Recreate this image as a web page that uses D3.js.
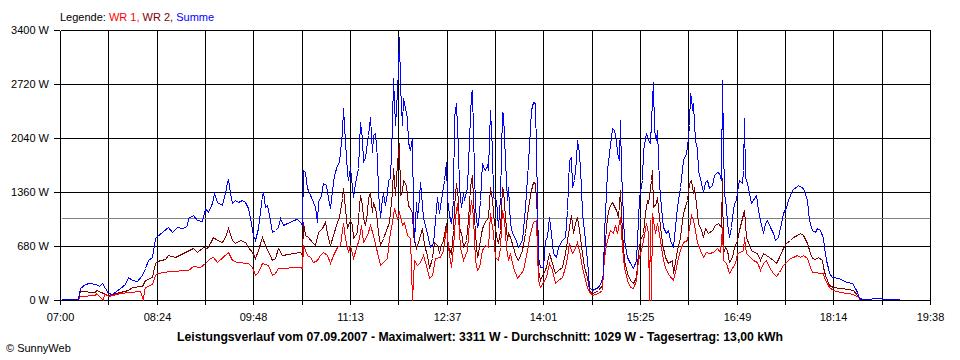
<!DOCTYPE html>
<html><head><meta charset="utf-8">
<script src="https://cdn.jsdelivr.net/npm/d3@7"></script>
<style>
body{margin:0;background:#fff;}
svg{display:block;font-family:"Liberation Sans",Arial,sans-serif;}
</style></head><body>
<svg id="chart" width="960" height="360"></svg>
<script>
// time axis: minutes after 07:00, span up to 19:38
const startLabel = "07:00";
const spanMinutes = 758;
const tickLabels = ["07:00","08:24","09:48","11:13","12:37","14:01","15:25","16:49","18:14","19:38"];
const yTicks = [0, 680, 1360, 2040, 2720, 3400];
const yMax = 3400;
const avgW = 1029;
const maxW = 3311;
const dateText = "07.09.2007";
const yieldText = "13,00 kWh";
const seriesNames = ["WR 1", "WR 2", "Summe"];

// [minutes after 07:00, watts]
const wr1 = [[15.0,0],[17.0,50],[30.1,63],[31.8,88],[37.1,0],[37.9,88],[41.4,50],[51.9,88],[60.6,101],[69.3,113],[71.9,0],[72.8,126],[73.7,164],[79.8,201],[82.4,315],[84.1,340],[95.5,365],[111.2,378],[115.5,428],[121.6,416],[126.0,466],[130.3,529],[132.9,541],[136.4,479],[146.0,604],[149.5,504],[153.9,479],[163.5,466],[167.0,416],[169.6,315],[172.2,353],[175.7,466],[180.9,441],[184.4,315],[187.0,340],[189.6,403],[208.8,416],[210.5,403],[211.4,693],[214.9,567],[217.5,541],[220.1,479],[223.6,504],[226.2,567],[228.9,604],[232.3,567],[235.0,466],[237.6,567],[241.1,667],[243.7,693],[246.3,970],[248.0,781],[250.6,604],[252.4,693],[255.0,529],[257.6,655],[260.2,781],[262.0,944],[263.7,730],[267.2,819],[269.8,944],[272.4,819],[275.9,604],[278.5,441],[281.2,479],[284.6,529],[286.4,781],[289.0,982],[290.7,1159],[293.4,1033],[295.1,1108],[297.7,944],[299.5,982],[302.1,819],[304.7,781],[306.4,0],[308.2,504],[310.8,441],[313.4,479],[316.0,567],[318.6,441],[321.3,277],[323.9,315],[326.5,529],[330.9,541],[333.5,630],[336.1,919],[337.8,667],[340.5,416],[342.2,667],[343.9,1045],[345.7,1222],[346.6,1045],[348.3,667],[350.9,504],[354.4,630],[356.1,1007],[357.9,1259],[359.6,1045],[361.4,504],[363.1,378],[364.8,416],[367.5,630],[370.1,693],[372.7,667],[374.4,1096],[377.1,844],[378.8,541],[381.4,504],[383.2,667],[384.9,1133],[386.6,1007],[388.4,667],[390.1,504],[391.9,592],[394.5,416],[398.0,277],[403.2,378],[406.7,630],[409.3,844],[411.9,982],[414.5,1007],[416.3,252],[418.0,164],[423.3,290],[425.9,466],[428.5,378],[431.1,214],[433.7,252],[437.2,290],[439.8,416],[441.6,541],[443.3,718],[445.9,592],[447.7,630],[450.3,730],[452.0,630],[454.6,416],[457.3,252],[459.9,126],[463.4,63],[468.6,88],[472.1,126],[473.0,378],[474.7,630],[476.4,756],[479.1,882],[481.7,844],[483.4,944],[485.1,844],[487.8,1045],[489.5,667],[491.3,416],[493.9,252],[496.5,164],[499.1,151],[501.7,252],[503.5,504],[506.1,630],[507.8,756],[510.4,970],[512.2,844],[513.1,0],[513.9,1007],[514.8,0],[515.7,1096],[518.3,844],[520.0,970],[522.7,756],[525.3,504],[527.9,378],[530.5,315],[534.0,252],[536.6,416],[539.2,592],[542.7,730],[546.2,756],[548.0,907],[549.7,1070],[551.4,1007],[553.2,882],[554.9,730],[557.5,630],[560.1,541],[562.7,604],[565.4,592],[568.8,604],[572.3,655],[574.9,604],[576.7,919],[577.6,504],[580.2,466],[582.8,340],[585.4,403],[588.0,466],[589.8,592],[592.4,604],[595.0,630],[595.9,793],[597.6,592],[601.1,541],[603.7,504],[607.2,479],[609.8,378],[612.4,466],[615.1,504],[617.7,416],[621.2,340],[623.8,302],[626.4,353],[629.9,441],[632.5,479],[636.0,529],[638.6,541],[642.1,567],[644.7,541],[647.3,567],[650.8,529],[653.4,416],[655.2,353],[664.8,340],[665.6,277],[668.2,214],[670.0,164],[673.5,126],[679.6,101],[685.7,88],[691.0,76],[695.3,38],[697.0,0]];

const wr2 = [[15.0,0],[17.0,113],[30.1,101],[31.8,126],[41.4,63],[51.9,101],[58.9,126],[62.3,164],[71.1,176],[73.7,252],[79.8,290],[82.4,466],[84.1,491],[91.1,516],[93.7,567],[99.8,541],[115.5,655],[119.0,604],[124.2,667],[127.7,655],[130.3,718],[132.9,793],[136.4,756],[140.8,730],[143.4,793],[146.0,907],[149.5,756],[152.1,718],[156.5,756],[160.8,730],[163.5,667],[167.0,604],[169.6,529],[172.2,630],[175.7,793],[178.3,693],[184.4,504],[187.0,529],[189.6,655],[193.1,567],[208.8,604],[210.5,567],[211.4,982],[213.2,819],[215.8,793],[219.3,730],[221.9,693],[224.5,856],[228.0,907],[230.6,982],[233.2,781],[235.0,693],[237.6,819],[241.1,982],[242.8,1045],[245.4,1284],[246.3,1410],[248.0,1159],[249.8,907],[250.6,944],[252.4,1007],[254.1,944],[255.0,781],[258.5,856],[259.4,1033],[261.1,1322],[262.8,1196],[263.7,1033],[265.5,944],[267.2,1108],[268.1,1284],[269.8,1360],[271.6,1108],[272.4,1234],[275.1,1108],[276.8,856],[278.5,693],[281.2,781],[286.4,982],[289.0,1360],[289.9,1662],[291.6,1322],[293.4,1725],[295.1,1977],[296.0,1322],[297.7,1360],[298.6,1511],[301.2,1448],[302.9,1196],[306.4,1108],[307.3,819],[309.9,655],[311.7,730],[315.2,907],[316.9,693],[319.5,567],[321.3,403],[323.9,529],[325.6,730],[328.3,693],[330.0,604],[331.7,693],[333.5,756],[336.1,970],[337.8,667],[340.5,592],[342.2,882],[343.1,1171],[344.8,1473],[346.6,1259],[347.4,919],[350.0,793],[350.9,667],[353.5,756],[355.3,1007],[357.0,1423],[358.8,1574],[359.6,1259],[361.4,844],[363.1,541],[364.0,592],[366.6,844],[368.4,944],[371.0,1007],[372.7,1045],[374.4,1423],[376.2,1259],[377.9,970],[380.5,756],[381.4,718],[383.2,882],[384.9,1423],[385.8,1385],[387.5,1045],[389.3,756],[390.1,844],[391.9,793],[394.5,667],[397.1,541],[398.9,504],[402.3,630],[405.0,844],[407.6,1171],[410.2,1385],[411.9,1486],[413.7,1473],[415.4,1045],[416.3,378],[418.0,252],[423.3,416],[425.9,592],[428.5,466],[431.1,340],[433.7,378],[437.2,416],[439.8,592],[441.6,756],[443.3,919],[445.1,1070],[446.8,844],[448.6,970],[450.3,1045],[452.0,882],[454.6,592],[456.4,416],[459.0,290],[460.8,126],[463.4,88],[466.0,101],[468.6,126],[472.1,189],[473.0,416],[474.7,756],[476.4,1045],[478.2,1171],[480.8,1234],[484.3,1133],[486.0,1045],[487.8,1385],[489.5,844],[491.3,504],[493.9,340],[496.5,252],[499.1,214],[501.7,290],[503.5,592],[505.2,756],[507.8,844],[509.6,1096],[511.3,1259],[512.2,1222],[514.8,1511],[515.7,1637],[516.5,1171],[519.1,1222],[520.0,1297],[521.8,1045],[524.4,718],[527.0,541],[529.6,466],[533.1,504],[534.0,340],[537.5,630],[540.1,793],[542.7,1096],[546.2,1259],[548.0,1473],[549.7,1511],[551.4,1347],[552.3,1423],[554.0,1222],[555.8,970],[558.4,882],[560.1,793],[561.9,907],[564.5,844],[568.0,882],[570.6,944],[573.2,970],[575.8,919],[576.7,1536],[577.6,592],[579.3,667],[581.0,630],[582.8,479],[585.4,541],[587.1,667],[589.8,756],[591.5,882],[595.9,1133],[597.6,793],[602.0,630],[604.6,604],[607.2,592],[609.8,504],[612.4,592],[617.7,541],[621.2,504],[623.8,466],[626.4,541],[629.9,655],[632.5,718],[636.0,756],[638.6,793],[642.1,819],[644.7,844],[647.3,819],[650.8,718],[653.4,592],[655.2,529],[657.8,516],[660.4,541],[663.9,504],[664.8,416],[666.5,315],[668.2,252],[670.0,189],[673.5,164],[686.6,139],[691.0,126],[694.4,63],[696.1,25],[698.7,0]];

const summe = [[0.4,0],[2.2,13],[15.3,13],[17.0,151],[21.4,201],[25.7,214],[31.8,201],[34.4,176],[36.2,214],[41.4,88],[44.9,76],[51.9,151],[56.2,201],[58.9,290],[62.3,252],[66.7,239],[71.1,315],[73.7,403],[76.3,504],[79.8,541],[82.4,781],[84.1,806],[88.5,856],[93.7,919],[97.2,856],[101.6,919],[105.9,907],[110.3,932],[111.2,1033],[115.5,1070],[119.0,1007],[123.4,995],[126.0,1159],[128.6,1108],[132.1,1222],[133.8,1347],[136.4,1234],[140.8,1196],[141.7,1259],[143.4,1347],[145.2,1486],[146.0,1524],[147.8,1347],[149.5,1222],[152.1,1259],[154.7,1234],[158.2,1259],[160.8,1234],[163.5,1159],[165.2,1033],[167.8,819],[169.6,756],[172.2,907],[175.7,1322],[176.5,1360],[178.3,1171],[180.0,1196],[182.6,1007],[184.4,856],[187.0,882],[189.6,919],[191.4,1033],[194.0,944],[197.5,970],[200.1,982],[202.7,1007],[206.2,1020],[208.8,982],[210.5,944],[211.4,1637],[213.2,1612],[214.9,1410],[215.8,1385],[220.1,1234],[221.9,1171],[223.6,982],[224.5,1234],[227.1,1322],[228.9,1473],[231.5,1448],[233.2,1284],[235.0,1159],[236.7,1385],[238.4,1574],[241.1,1700],[242.8,1738],[245.4,2116],[246.3,2418],[248.0,1990],[249.8,1612],[250.6,1511],[252.4,1675],[255.0,1297],[256.7,1473],[258.5,1599],[259.4,1662],[261.1,2242],[262.8,2040],[263.7,1738],[265.5,1801],[267.2,1990],[268.1,2078],[269.8,2304],[271.6,1864],[272.4,2078],[274.2,2103],[275.9,1788],[276.8,1360],[278.5,1045],[280.3,1284],[281.2,1347],[282.9,1196],[284.6,1347],[285.5,1511],[287.3,1536],[289.0,2204],[289.9,2796],[291.6,2204],[293.4,2619],[294.2,2922],[295.1,3311],[296.0,2708],[297.7,2204],[298.6,2544],[300.3,2418],[302.1,2292],[302.9,1990],[304.7,1889],[306.4,2040],[307.3,1108],[308.2,730],[309.9,1234],[310.8,1033],[312.5,1284],[313.4,1486],[315.2,1196],[316.0,1033],[317.8,944],[320.4,781],[322.1,667],[324.8,718],[326.5,1007],[328.3,1297],[330.0,1096],[332.6,1347],[334.3,1511],[336.1,1738],[337.0,1284],[338.7,1070],[340.5,970],[342.2,1259],[343.1,2304],[344.8,2481],[346.6,1889],[347.4,1423],[349.2,1171],[350.9,1347],[351.8,1259],[354.4,1423],[356.1,2015],[357.9,2607],[358.8,2645],[359.6,2103],[361.4,1171],[363.1,919],[364.0,970],[365.7,1259],[367.5,1725],[368.4,1675],[370.1,1637],[371.8,1700],[372.7,1637],[374.4,2393],[376.2,1889],[377.1,1297],[379.7,1259],[381.4,919],[383.2,1297],[384.9,2367],[385.8,2355],[387.5,1763],[389.3,1259],[390.1,1423],[391.9,970],[393.6,844],[396.2,781],[398.9,667],[402.3,756],[405.0,1171],[407.6,1725],[410.2,2393],[411.9,2493],[413.7,2481],[415.4,1259],[416.3,541],[418.0,416],[420.6,416],[422.4,756],[424.1,793],[425.9,1045],[427.6,844],[429.4,592],[432.0,541],[433.7,667],[437.2,756],[439.8,793],[441.6,1133],[443.3,1763],[445.1,1801],[445.9,1423],[447.7,1511],[449.4,1763],[450.3,2015],[452.0,1851],[453.8,1423],[454.6,1096],[457.3,756],[459.0,504],[460.8,164],[463.4,126],[468.6,164],[471.2,227],[473.0,340],[473.8,844],[475.6,1347],[476.4,1637],[478.2,1851],[479.9,2053],[480.8,2166],[482.5,2141],[484.3,2015],[485.1,1851],[486.9,1763],[487.8,2267],[488.6,1637],[489.5,1347],[491.3,756],[493.9,541],[496.5,466],[499.1,403],[501.7,504],[503.5,1007],[504.3,1297],[507.0,1511],[507.8,1889],[510.4,2103],[512.2,2015],[513.9,1977],[515.7,2519],[516.5,2745],[517.4,2141],[519.1,2015],[520.0,2141],[521.8,1473],[523.5,1171],[525.3,919],[527.9,844],[529.6,882],[531.4,756],[534.0,667],[537.5,1171],[540.1,1423],[542.7,1763],[545.3,1851],[546.2,1927],[548.0,2204],[548.8,2607],[549.7,2556],[550.6,2393],[551.4,2481],[552.3,2229],[553.2,2015],[554.9,1914],[555.8,1637],[558.4,1473],[560.1,1360],[561.9,1486],[563.6,1511],[565.4,1410],[568.0,1448],[569.7,1574],[572.3,1612],[574.1,1599],[575.8,1511],[576.7,2770],[577.6,1977],[578.4,1347],[580.2,1171],[581.0,970],[582.8,793],[584.5,919],[585.4,1045],[587.1,1222],[588.9,1259],[589.8,1360],[591.5,1511],[594.1,1473],[595.0,1637],[595.9,2292],[596.7,1549],[598.5,1473],[600.2,1347],[602.0,1222],[603.7,1259],[606.3,1322],[608.1,1133],[609.8,1007],[612.4,844],[614.2,970],[615.9,1007],[618.6,919],[621.2,844],[622.9,756],[625.5,793],[628.1,970],[629.9,1096],[632.5,1171],[634.3,1259],[637.7,1385],[643.0,1448],[645.6,1423],[647.3,1410],[650.8,1259],[652.6,1007],[655.2,882],[657.8,856],[659.5,907],[662.1,882],[664.8,781],[665.6,667],[667.4,504],[669.1,403],[670.0,340],[672.6,290],[677.8,277],[685.7,227],[690.0,214],[692.7,151],[694.4,101],[696.1,25],[699.6,13],[714.9,25],[716.6,13],[731.0,13]];

const colors = {wr1: "#ff0000", wr2: "#800000", summe: "#0000ff"};

const svg = d3.select("#chart");
const x = d3.scaleLinear().domain([0, spanMinutes]).rangeRound([60, 930]);
const y = d3.scaleLinear().domain([0, yMax]).rangeRound([300, 30]);

svg.append("rect").attr("width", 960).attr("height", 360).attr("fill", "#ffffff");

const plot = svg.append("g").attr("transform", "translate(0.5,0.5)");
plot.append("rect").attr("x", x(0)).attr("y", y(yMax))
  .attr("width", x(spanMinutes) - x(0)).attr("height", y(0) - y(yMax))
  .attr("fill", "#ffffff");

const gridVals = d3.range(19).map(i => i * spanMinutes / 18);

plot.selectAll("line.vg").data(gridVals).join("line").attr("class", "vg")
  .attr("x1", d => x(d)).attr("x2", d => x(d))
  .attr("y1", y(yMax)).attr("y2", y(0))
  .attr("stroke", "#000").attr("shape-rendering", "crispEdges");
plot.selectAll("line.hg").data(yTicks).join("line").attr("class", "hg")
  .attr("x1", x(0)).attr("x2", x(spanMinutes))
  .attr("y1", d => y(d)).attr("y2", d => y(d))
  .attr("stroke", "#000").attr("shape-rendering", "crispEdges");

plot.append("line").attr("x1", x(0) + 1).attr("x2", x(spanMinutes) - 1)
  .attr("y1", y(avgW)).attr("y2", y(avgW))
  .attr("stroke", "#808080").attr("shape-rendering", "crispEdges");

const line = d3.line().x(d => x(d[0])).y(d => y(d[1])).curve(d3.curveLinear);
[["wr2", wr2], ["wr1", wr1], ["summe", summe]].forEach(([k, data]) => {
  plot.append("path").datum(data).attr("d", line)
    .attr("fill", "none").attr("stroke", colors[k]).attr("stroke-width", 1)
    .attr("stroke-linejoin", "miter")
    .attr("shape-rendering", "crispEdges");
});

const xAxis = d3.axisBottom(x).tickValues(gridVals).tickSize(5).tickSizeOuter(0).tickPadding(8)
  .tickFormat((d, i) => i % 2 === 0 ? tickLabels[i / 2] : "");
const gx = svg.append("g").attr("transform", "translate(0," + y(0) + ")").call(xAxis);
gx.select(".domain").remove();
gx.selectAll("line").attr("stroke", "#000");
gx.selectAll("text").attr("font-family", "'Liberation Sans',Arial,sans-serif").attr("font-size", 11).attr("fill", "#000");

const yAxis = d3.axisLeft(y).tickValues(yTicks).tickSize(6).tickSizeOuter(0).tickPadding(5)
  .tickFormat(d => d + " W");
const gy = svg.append("g").attr("transform", "translate(" + x(0) + ",0)").call(yAxis);
gy.select(".domain").remove();
gy.selectAll("line").attr("stroke", "#000");
gy.selectAll("text").attr("font-family", "'Liberation Sans',Arial,sans-serif").attr("font-size", 11).attr("fill", "#000").attr("dy", "0.36em");

const leg = svg.append("text").attr("x", 60).attr("y", 21).attr("font-size", 11);
leg.append("tspan").attr("fill", "#000").text("Legende: ");
leg.append("tspan").attr("fill", colors.wr1).text(seriesNames[0] + ", ");
leg.append("tspan").attr("fill", colors.wr2).text(seriesNames[1] + ", ");
leg.append("tspan").attr("fill", colors.summe).text(seriesNames[2]);

svg.append("text").attr("x", 480).attr("y", 341).attr("text-anchor", "middle")
  .attr("font-size", 12).attr("font-weight", "bold").attr("fill", "#000")
  .attr("textLength", 606).attr("lengthAdjust", "spacingAndGlyphs")
  .text("Leistungsverlauf vom " + dateText + " - Maximalwert: " + maxW + " W - Durchschnitt: " + avgW + " W - Tagesertrag: " + yieldText);

svg.append("text").attr("x", 6).attr("y", 352).attr("font-size", 11).attr("fill", "#000")
  .text("\u00A9 SunnyWeb");
</script>
</body></html>
